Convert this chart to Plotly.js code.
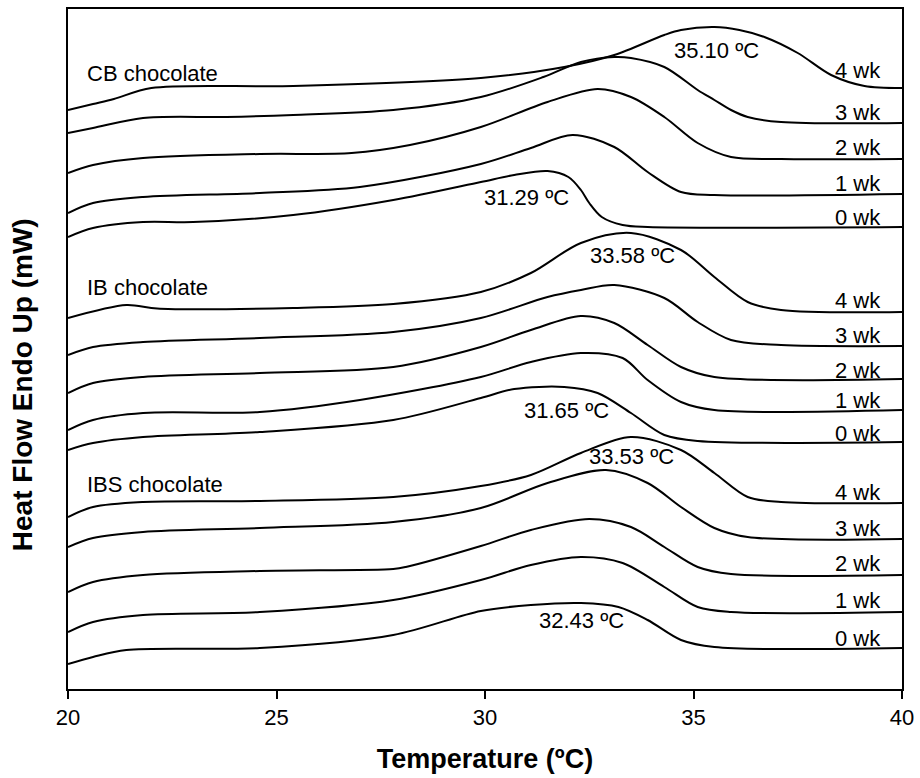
<!DOCTYPE html>
<html>
<head>
<meta charset="utf-8">
<script src="https://cdn.plot.ly/plotly-3.0.1.min.js"></script>
<style>html,body{margin:0;padding:0;background:#fff;}#chart{width:920px;height:778px;}</style>
</head>
<body>
<div id="chart"></div>
<script>
// Temperature (ºC) and heat flow (arbitrary offset units)
const cb4T = [20.0, 20.6, 21.1, 22.0, 25.4, 29.9, 31.9, 33.1, 34.3, 34.7, 35.5, 36.1, 36.7, 37.5, 38.3, 39.1, 40.0];
const cb4Y = [57.9, 58.5, 59.0, 60.1, 60.3, 61.1, 62.2, 63.4, 65.4, 65.9, 66.2, 65.9, 65.2, 63.6, 61.4, 60.3, 60.1];
const cb3T = [20.0, 20.6, 21.8, 23.8, 25.4, 27.8, 29.9, 31.4, 32.3, 33.1, 33.5, 34.3, 35.1, 35.5, 35.9, 36.3, 37.1, 40.0];
const cb3Y = [55.6, 56.1, 57.1, 57.2, 57.4, 57.9, 59.2, 61.2, 62.7, 63.2, 63.1, 62.2, 59.9, 58.9, 57.9, 57.2, 56.7, 56.6];
const cb2T = [20.0, 20.6, 21.8, 24.6, 26.8, 28.2, 29.9, 31.5, 32.7, 33.5, 34.3, 35.1, 35.9, 37.1, 40.0];
const cb2Y = [51.6, 52.4, 53.1, 53.5, 53.6, 54.4, 56.2, 58.7, 60.0, 59.2, 57.2, 54.6, 53.2, 53.0, 53.0];
const cb1T = [20.0, 20.6, 21.8, 24.6, 27.0, 29.9, 31.1, 32.1, 33.1, 33.9, 34.7, 35.5, 40.0];
const cb1Y = [47.6, 48.6, 49.2, 49.6, 50.2, 52.5, 54.1, 55.4, 54.2, 51.7, 49.7, 49.4, 49.5];
const cb0T = [20.0, 20.6, 21.8, 23.0, 25.4, 27.8, 29.9, 30.7, 31.5, 32.0, 32.3, 32.5, 32.8, 33.3, 33.9, 40.0];
const cb0Y = [45.2, 46.1, 46.7, 46.7, 47.4, 48.9, 50.7, 51.4, 51.8, 51.2, 49.9, 48.6, 47.2, 46.4, 46.2, 46.2];

const ib4T = [20.0, 21.4, 22.0, 22.4, 25.4, 27.8, 29.9, 31.1, 32.3, 33.5, 34.7, 35.5, 36.3, 37.1, 40.0];
const ib4Y = [37.1, 38.4, 38.1, 38.0, 38.1, 38.5, 39.7, 41.6, 44.6, 45.6, 43.9, 41.2, 38.7, 37.9, 37.7];
const ib3T = [20.0, 20.6, 21.8, 24.6, 27.8, 29.9, 31.5, 32.3, 33.1, 34.3, 35.1, 35.9, 37.1, 40.0];
const ib3Y = [33.4, 34.2, 34.7, 35.1, 35.7, 37.1, 39.2, 39.9, 40.4, 39.1, 36.7, 34.9, 34.4, 34.3];
const ib2T = [20.0, 20.6, 21.8, 24.6, 27.8, 29.9, 31.1, 32.3, 33.1, 33.9, 34.7, 35.5, 40.0];
const ib2Y = [29.6, 30.6, 31.2, 31.6, 32.2, 34.2, 35.9, 37.3, 36.6, 34.4, 32.2, 31.2, 31.0];
const ib1T = [20.0, 20.6, 21.8, 24.6, 27.0, 29.9, 31.1, 32.3, 33.3, 33.9, 34.7, 35.5, 40.0];
const ib1Y = [25.9, 26.9, 27.6, 27.7, 28.9, 31.2, 32.7, 33.6, 33.1, 30.9, 28.7, 27.9, 27.9];
const ib0T = [20.0, 20.6, 21.8, 24.6, 27.8, 29.9, 30.7, 31.9, 32.7, 33.5, 34.3, 35.1, 40.0];
const ib0Y = [23.9, 24.6, 25.2, 25.7, 26.9, 29.1, 30.0, 30.2, 29.6, 27.6, 25.4, 24.8, 24.7];

const ibs4T = [20.0, 20.6, 21.8, 24.6, 27.8, 29.9, 31.1, 32.3, 33.5, 34.7, 35.5, 36.3, 37.1, 40.0];
const ibs4Y = [17.2, 18.2, 18.7, 18.8, 19.2, 20.3, 21.4, 23.6, 25.2, 23.9, 21.6, 19.2, 18.7, 18.6];
const ibs3T = [20.0, 20.6, 21.8, 24.6, 27.8, 29.9, 31.5, 32.9, 33.9, 34.7, 35.5, 36.3, 40.0];
const ibs3Y = [14.2, 15.1, 15.7, 16.1, 16.7, 18.1, 20.6, 21.9, 20.6, 18.2, 16.1, 15.2, 15.0];
const ibs2T = [20.0, 20.6, 21.8, 24.6, 27.8, 28.1, 29.9, 31.1, 32.5, 33.5, 34.3, 35.1, 35.9, 40.0];
const ibs2Y = [9.7, 10.7, 11.4, 11.8, 12.0, 12.2, 14.3, 15.9, 17.0, 16.2, 14.2, 12.2, 11.5, 11.4];
const ibs1T = [20.0, 20.6, 21.8, 24.6, 27.8, 29.9, 31.1, 32.3, 33.3, 34.3, 35.1, 35.9, 40.0];
const ibs1Y = [5.7, 6.7, 7.4, 7.7, 8.9, 10.9, 12.4, 13.2, 12.6, 10.2, 8.2, 7.7, 7.7];
const ibs0T = [20.0, 20.6, 21.4, 24.6, 27.8, 29.9, 31.1, 32.3, 33.2, 33.9, 34.7, 35.5, 40.0];
const ibs0Y = [2.5, 3.2, 3.9, 4.1, 5.4, 7.8, 8.4, 8.6, 8.2, 6.9, 4.9, 4.2, 4.1];

const groupLabels = ["CB chocolate", "IB chocolate", "IBS chocolate"];
const weekLabels = ["4 wk", "3 wk", "2 wk", "1 wk", "0 wk"];
const peakLabels = ["35.10 ºC", "31.29 ºC", "33.58 ºC", "31.65 ºC", "33.53 ºC", "32.43 ºC"];

const series = [
  [cb4T, cb4Y], [cb3T, cb3Y], [cb2T, cb2Y], [cb1T, cb1Y], [cb0T, cb0Y],
  [ib4T, ib4Y], [ib3T, ib3Y], [ib2T, ib2Y], [ib1T, ib1Y], [ib0T, ib0Y],
  [ibs4T, ibs4Y], [ibs3T, ibs3Y], [ibs2T, ibs2Y], [ibs1T, ibs1Y], [ibs0T, ibs0Y]
];

const traces = series.map(s => ({
  x: s[0], y: s[1], type: 'scatter', mode: 'lines',
  line: {color: '#000', width: 2, shape: 'spline', smoothing: 0.9},
  hoverinfo: 'skip', showlegend: false
}));

const FONT = 'Arial, "Liberation Sans", sans-serif';
const annFont = {family: FONT, size: 22, color: '#000'};
const annotations = [];
const groupPos = [61.6, 40.2, 20.5];
groupLabels.forEach((t, i) => annotations.push({x: 20.4, y: groupPos[i], xref: 'x', yref: 'y', text: t, showarrow: false, xanchor: 'left', yanchor: 'middle', font: annFont}));
const weekPos = [
  [61.9, 57.7, 54.2, 50.6, 47.2],
  [38.9, 35.4, 31.9, 28.9, 25.6],
  [19.7, 16.1, 12.6, 8.9, 5.1]
];
weekPos.forEach(g => g.forEach((yy, j) => annotations.push({x: 39.55, y: yy, xref: 'x', yref: 'y', text: weekLabels[j], showarrow: false, xanchor: 'right', yanchor: 'middle', font: annFont})));
const peakPos = [[35.55, 63.9], [31.0, 49.2], [33.54, 43.4], [31.95, 27.9], [33.51, 23.3], [32.31, 6.9]];
peakLabels.forEach((t, i) => annotations.push({x: peakPos[i][0], y: peakPos[i][1], xref: 'x', yref: 'y', text: t, showarrow: false, xanchor: 'center', yanchor: 'middle', font: annFont}));
// y-axis title (placed like the original, slightly below the plot centre)
annotations.push({x: -0.055, y: 0.447, xref: 'paper', yref: 'paper', text: 'Heat Flow Endo Up (mW)', textangle: -90, showarrow: false, xanchor: 'center', yanchor: 'middle', font: {family: FONT, size: 28, color: '#000', weight: 'bold'}});

const layout = {
  width: 920, height: 778,
  margin: {l: 68, r: 18, t: 9, b: 89},
  paper_bgcolor: '#fff', plot_bgcolor: '#fff',
  font: {family: FONT, color: '#000'},
  xaxis: {
    range: [20, 40], tickvals: [20, 25, 30, 35, 40], ticktext: ['20', '25', '30', '35', '40'],
    ticks: 'outside', ticklen: 8, tickwidth: 2, tickcolor: '#000',
    showline: true, linecolor: '#000', linewidth: 2, mirror: true,
    showgrid: false, zeroline: false,
    tickfont: {family: FONT, size: 22, color: '#000'},
    title: {text: 'Temperature (ºC)', font: {family: FONT, size: 27, color: '#000', weight: 'bold'}, standoff: 20}
  },
  yaxis: {
    range: [0, 68], showticklabels: false, ticks: '',
    showline: true, linecolor: '#000', linewidth: 2, mirror: true,
    showgrid: false, zeroline: false
  },
  annotations: annotations
};

Plotly.newPlot('chart', traces, layout, {displayModeBar: false, staticPlot: true});
</script>
</body>
</html>
